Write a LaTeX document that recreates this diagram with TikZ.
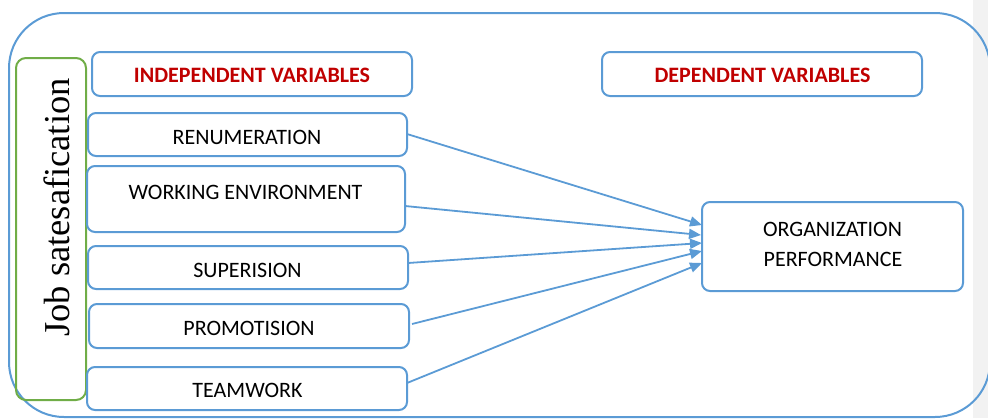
\documentclass[tikz,border=0pt]{standalone}
\usepackage{fontspec}
\setmainfont{Carlito}
\newfontfamily\timesfont{Liberation Serif}
\usetikzlibrary{arrows.meta}
\definecolor{boxblue}{HTML}{5B9BD5}
\definecolor{boxgreen}{HTML}{70AD47}
\definecolor{hdrred}{HTML}{C00000}
\definecolor{stripgray}{HTML}{F2F2F2}
\tikzset{
  varbox/.style={draw=boxblue, line width=2pt, rounded corners=8pt, inner sep=0pt, outer sep=0pt},
  lbl/.style={inner sep=0pt, font=\fontsize{22}{26}\selectfont, text=black},
  hdr/.style={inner sep=0pt, font=\fontsize{22}{26}\selectfont\bfseries, text=hdrred},
  link/.style={draw=boxblue, line width=1.8pt, -{Triangle[length=12pt,width=10pt]}}
}
\begin{document}
\begin{tikzpicture}[x=1pt,y=-1pt]
\useasboundingbox (0,0) rectangle (988,418);
\fill[stripgray] (973,0) rectangle (988,418);
% outer frame
\draw[boxblue, line width=2pt, rounded corners=55pt] (9,13) rectangle (990,417);
% green side box
\node[draw=boxgreen, line width=2pt, rounded corners=10pt, minimum width=70pt, minimum height=342pt, inner sep=0pt] (js) at (51,229) {};
\node[inner sep=0pt, rotate=90, anchor=base, font=\timesfont\fontsize{36.5}{40}\selectfont] (jst) at (69,207.5) {Job satesafication};
% header boxes
\node[varbox, minimum width=320pt, minimum height=44pt] (b0) at (252,74) {};
\node[hdr] (t0) at (252,75.8) {INDEPENDENT VARIABLES};
\node[varbox, minimum width=320pt, minimum height=44pt] (d0) at (762,74) {};
\node[hdr] (td) at (762.5,75.5) {DEPENDENT VARIABLES};
% independent variable boxes
\node[varbox, minimum width=319pt, minimum height=43pt] (b1) at (247.5,134.5) {};
\node[lbl] (t1) at (247,137) {RENUMERATION};
\node[varbox, minimum width=318pt, minimum height=66pt] (b2) at (246,199) {};
\node[lbl] (t2) at (245.5,192) {WORKING ENVIRONMENT};
\node[varbox, minimum width=320pt, minimum height=43pt] (b3) at (248,267.5) {};
\node[lbl] (t3) at (247.5,270) {SUPERISION};
\node[varbox, minimum width=320pt, minimum height=44pt] (b4) at (249,326) {};
\node[lbl] (t4) at (249,328.5) {PROMOTISION};
\node[varbox, minimum width=320pt, minimum height=43pt] (b5) at (247,388.5) {};
\node[lbl] (t5) at (247.5,390.5) {TEAMWORK};
% dependent variable box
\node[varbox, minimum width=261pt, minimum height=89pt] (org) at (832.5,246.5) {};
\node[lbl] (o1) at (832.5,229) {ORGANIZATION};
\node[lbl] (o2) at (833,259) {PERFORMANCE};
% connectors
\draw[link] ([yshift=0.5pt]b1.east) -- ([yshift=21.5pt]org.west);
\draw[link] ([yshift=-7pt]b2.east) -- ([yshift=11.5pt,xshift=-1pt]org.west);
\draw[link] ([yshift=4.5pt]b3.east) -- ([yshift=3.5pt]org.west);
\draw[link] ([xshift=3pt,yshift=2pt]b4.east) -- ([yshift=-4.5pt]org.west);
\draw[link] ([yshift=5.5pt]b5.east) -- ([yshift=-16.5pt]org.west);
\end{tikzpicture}
\end{document}
